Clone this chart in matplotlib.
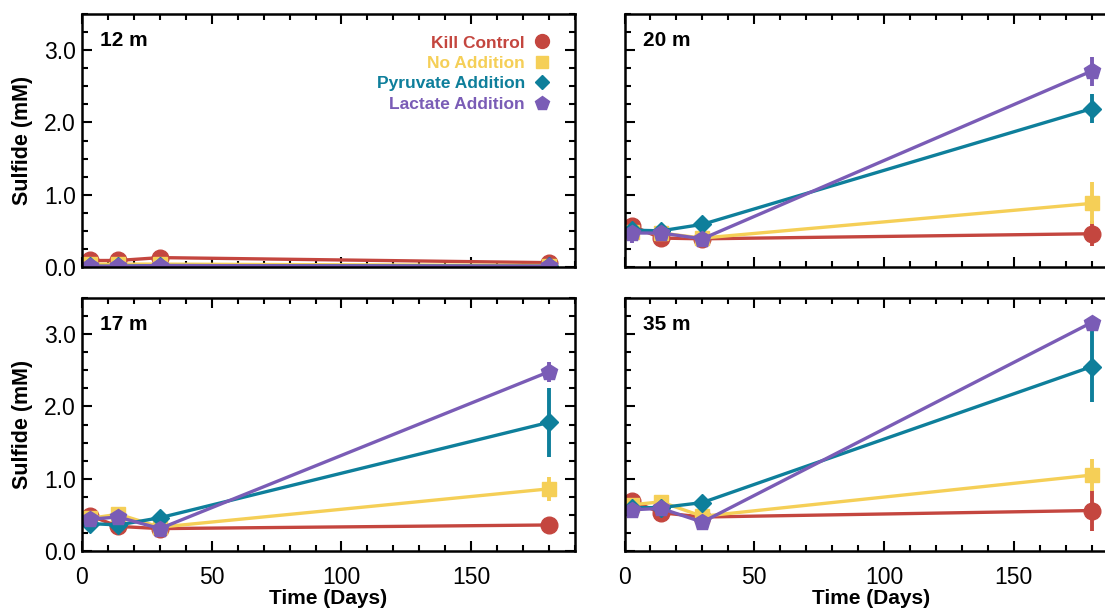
import matplotlib
matplotlib.use("Agg")
import matplotlib.pyplot as plt
from matplotlib.lines import Line2D
from matplotlib.ticker import MultipleLocator

plt.rcParams['font.family'] = ['Liberation Sans', 'DejaVu Sans']

# sampling days
days = [3, 14, 30, 180]

treatments = ["Kill Control", "No Addition", "Pyruvate Addition", "Lactate Addition"]
colors = ["#c4463f", "#f5cf57", "#0e7f9b", "#7a5cb6"]
markers = ["o", "s", "D", "p"]
msizes = [12, 10.5, 9.5, 12]

# sulfide (mM) per depth, per treatment
d12 = [[0.09, 0.09, 0.13, 0.06],
       [0.04, 0.04, 0.04, 0.02],
       [0.01, 0.01, 0.02, 0.01],
       [0.01, 0.01, 0.02, 0.01]]
e12 = [[0.02, 0.02, 0.02, 0.02],
       [0.01, 0.01, 0.01, 0.01],
       [0.01, 0.01, 0.02, 0.01],
       [0.01, 0.01, 0.02, 0.01]]

d20 = [[0.57, 0.40, 0.39, 0.46],
       [0.49, 0.47, 0.40, 0.88],
       [0.51, 0.50, 0.59, 2.19],
       [0.47, 0.47, 0.39, 2.71]]
e20 = [[0.04, 0.03, 0.03, 0.17],
       [0.05, 0.03, 0.03, 0.29],
       [0.03, 0.03, 0.04, 0.20],
       [0.14, 0.03, 0.03, 0.20]]

d17 = [[0.49, 0.34, 0.31, 0.36],
       [0.45, 0.51, 0.33, 0.86],
       [0.38, 0.36, 0.46, 1.78],
       [0.44, 0.47, 0.31, 2.48]]
e17 = [[0.03, 0.03, 0.03, 0.05],
       [0.04, 0.04, 0.03, 0.17],
       [0.04, 0.04, 0.10, 0.48],
       [0.03, 0.04, 0.03, 0.14]]

d35 = [[0.69, 0.53, 0.47, 0.56],
       [0.64, 0.68, 0.48, 1.05],
       [0.60, 0.60, 0.67, 2.55],
       [0.57, 0.59, 0.40, 3.16]]
e35 = [[0.04, 0.04, 0.03, 0.29],
       [0.04, 0.04, 0.03, 0.22],
       [0.04, 0.04, 0.08, 0.49],
       [0.04, 0.04, 0.04, 0.04]]

panels = [("12 m", d12, e12), ("20 m", d20, e20), ("17 m", d17, e17), ("35 m", d35, e35)]

fig = plt.figure(figsize=(11.05, 6.08), dpi=100)
W, H = 1105.0, 608.0
aw, ah = 493 / W, 253 / H
lefts = [82 / W, 624.5 / W]
bottoms = [1 - 267 / H, 1 - 551 / H]

for i, (name, vals, errs) in enumerate(panels):
    row, col = divmod(i, 2)
    ax = fig.add_axes([lefts[col], bottoms[row], aw, ah])
    for k in range(4):
        ax.errorbar(days, vals[k], yerr=errs[k], color=colors[k], marker=markers[k],
                    markersize=msizes[k], lw=2.4, elinewidth=2.8, capsize=0)
    ax.set_xlim(0, 190)
    ax.set_ylim(0, 3.5)
    ax.xaxis.set_major_locator(MultipleLocator(50))
    ax.xaxis.set_minor_locator(MultipleLocator(10))
    ax.yaxis.set_major_locator(MultipleLocator(1.0))
    ax.yaxis.set_minor_locator(MultipleLocator(0.25))
    ax.tick_params(which='both', direction='in', top=True, right=True, labelsize=16.5, width=1.5)
    ax.tick_params(which='major', length=7)
    ax.tick_params(which='minor', length=4.5)
    ax.tick_params(axis='y', pad=4.5)
    ax.tick_params(axis='x', pad=11)
    for s in ax.spines.values():
        s.set_linewidth(1.8)
    ax.yaxis.set_major_formatter(plt.FuncFormatter(lambda v, p: f"{v:.1f}"))
    if col == 0:
        ax.set_ylabel("Sulfide (mM)", fontsize=15.5, fontweight='bold', labelpad=8)
    else:
        ax.tick_params(labelleft=False)
    if row == 0:
        ax.tick_params(labelbottom=False)
    else:
        ax.set_xlabel("Time (Days)", fontsize=15, fontweight='bold', labelpad=0)
    ax.text(0.037, 0.895, name, transform=ax.transAxes, fontsize=15, fontweight='bold',
            va='center', ha='left')
    if i == 0:
        handles = [Line2D([], [], color=colors[k], marker=markers[k], linestyle='none',
                          markersize=msizes[k] - 2) for k in range(4)]
        leg = ax.legend(handles, treatments, loc='upper right', markerfirst=False, frameon=False,
                        handletextpad=0.0, labelspacing=0.3, borderaxespad=0.0,
                        prop={'weight': 'bold', 'size': 12.5}, bbox_to_anchor=(0.983, 0.943))
        for t, c in zip(leg.get_texts(), colors):
            t.set_color(c)

fig.savefig("out.png", dpi=100)
